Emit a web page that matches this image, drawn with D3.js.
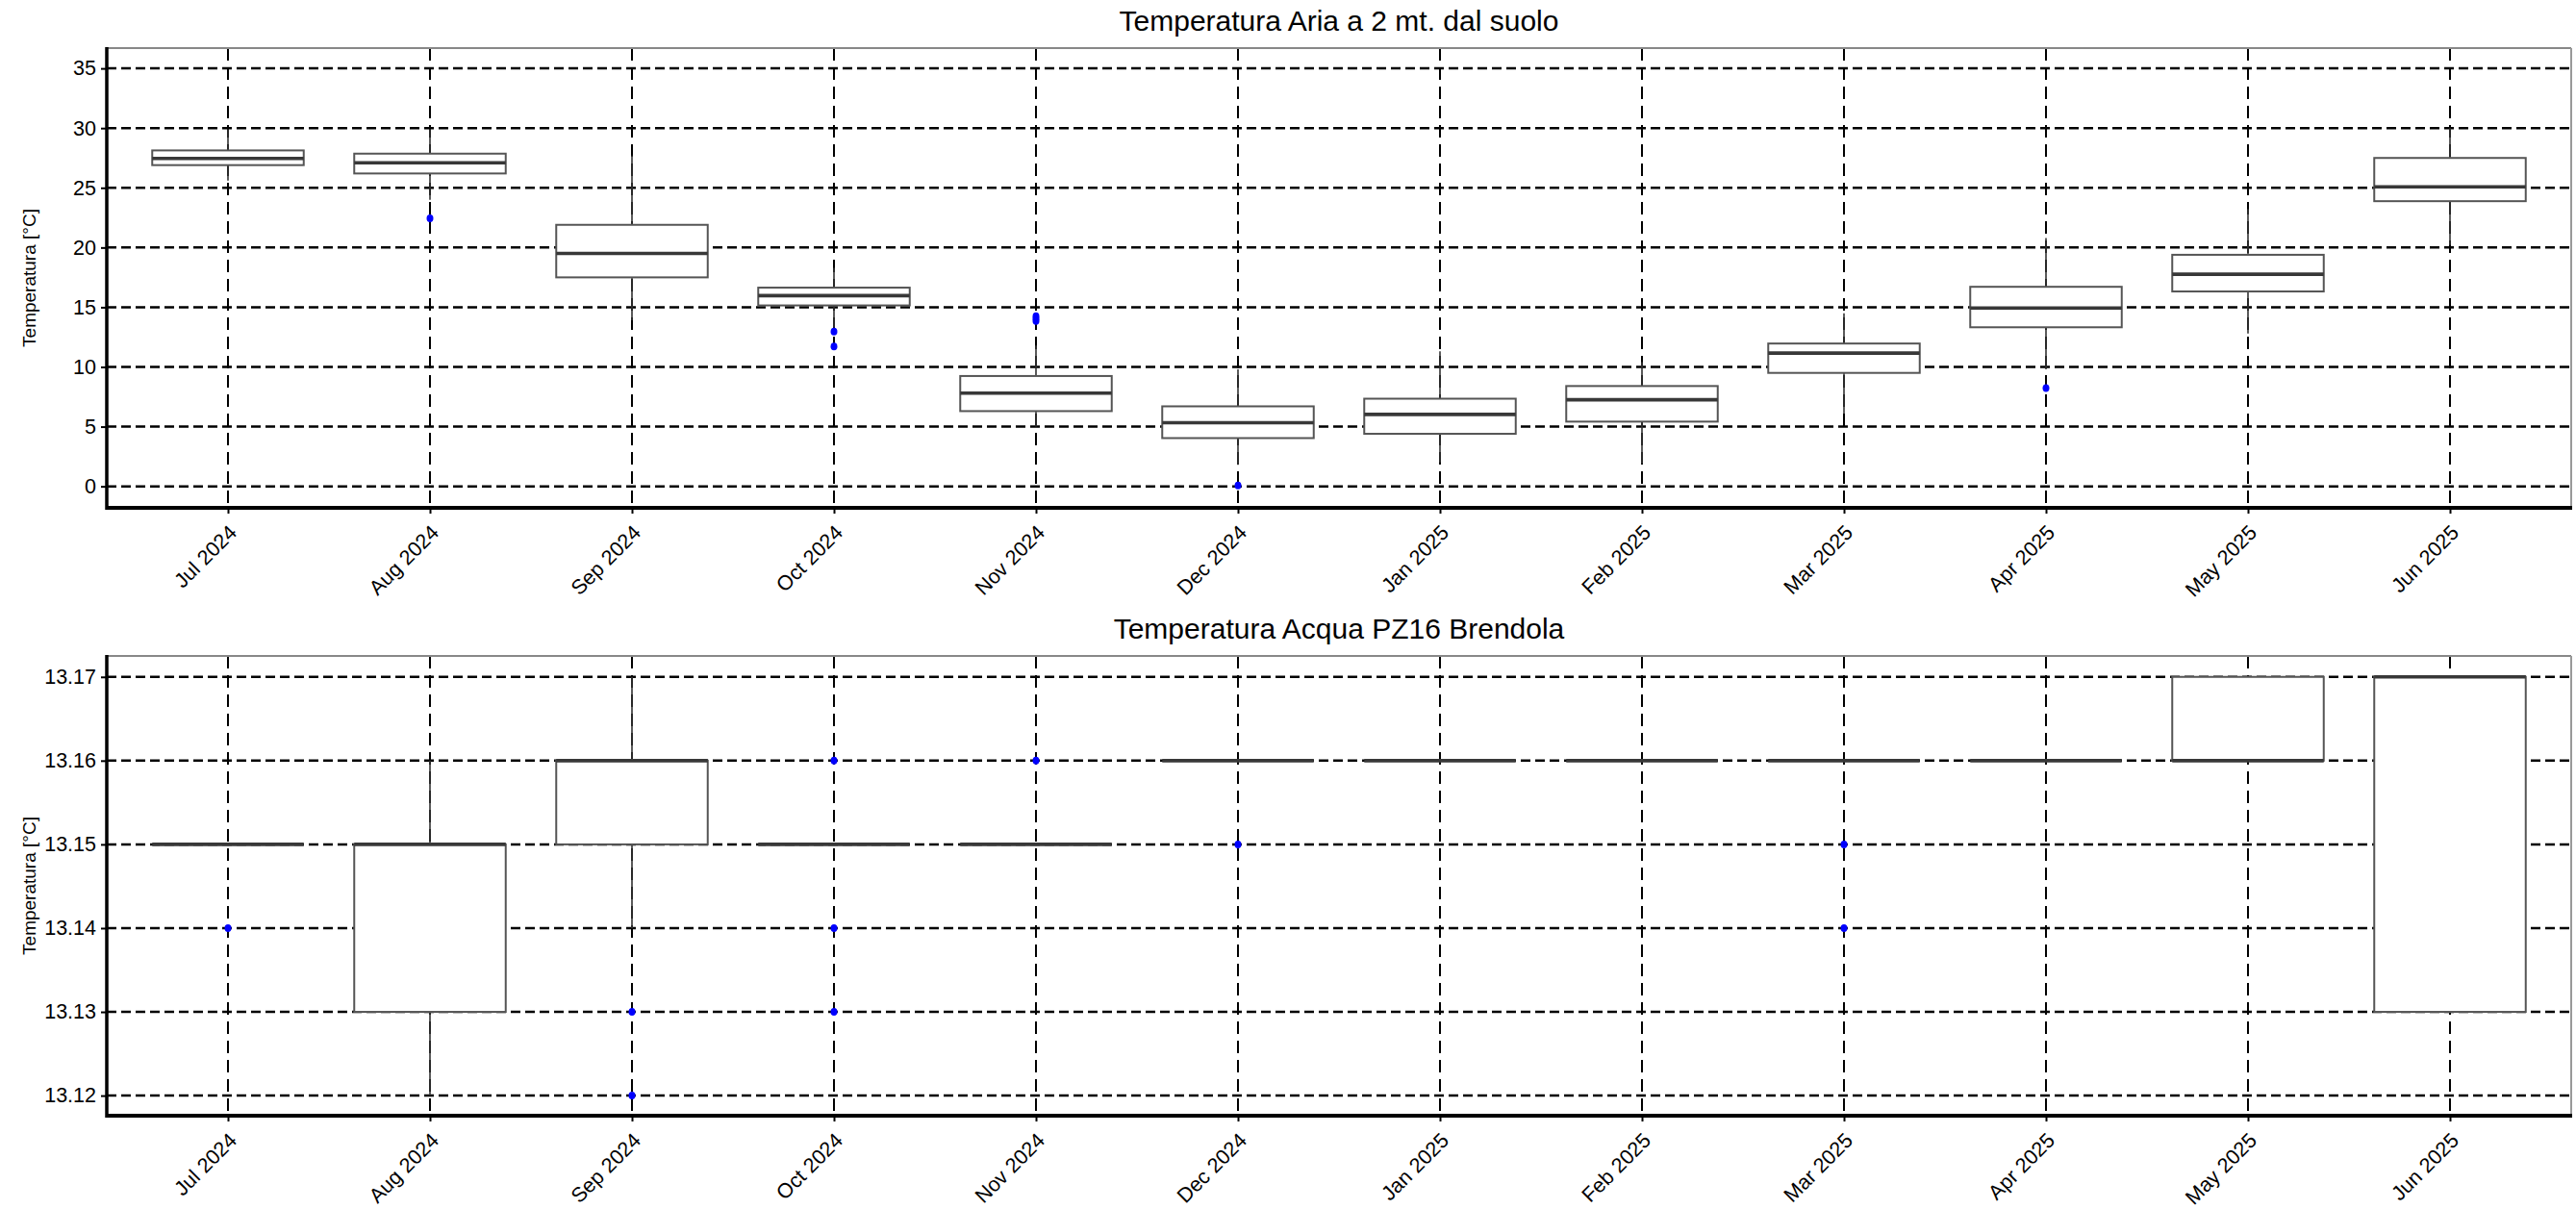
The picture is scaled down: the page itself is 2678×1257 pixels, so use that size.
<!DOCTYPE html>
<html>
<head>
<meta charset="utf-8">
<script src="https://cdn.jsdelivr.net/npm/d3@7"></script>
<style>
  html, body { margin: 0; padding: 0; background: #fff; }
  svg { display: block; }
  text { font-family: "Liberation Sans", Arial, sans-serif; fill: #000; }
</style>
</head>
<body>
<svg id="chart" width="2678" height="1257"></svg>
<script>
// ---------- DATA ----------
const months = ["Jul 2024", "Aug 2024", "Sep 2024", "Oct 2024", "Nov 2024", "Dec 2024",
                "Jan 2025", "Feb 2025", "Mar 2025", "Apr 2025", "May 2025", "Jun 2025"];

// Chart 1: Temperatura Aria a 2 mt. dal suolo
const airTitle = "Temperatura Aria a 2 mt. dal suolo";
const airTicks = [0, 5, 10, 15, 20, 25, 30, 35];
const airLow    = [25.6, 24.0, 13.9, 13.3, 5.0, 1.8, 2.0, 1.9, 6.1, 9.8, 12.8, 20.2];
const airQ1     = [26.9, 26.2, 17.5, 15.15, 6.3, 4.04, 4.4, 5.42, 9.5, 13.32, 16.32, 23.88];
const airMedian = [27.46, 27.1, 19.5, 15.97, 7.81, 5.33, 6.02, 7.25, 11.16, 14.93, 17.76, 25.08];
const airQ3     = [28.13, 27.86, 21.9, 16.64, 9.24, 6.7, 7.34, 8.4, 11.96, 16.71, 19.39, 27.5];
const airHigh   = [29.9, 29.9, 27.7, 18.3, 11.8, 9.8, 11.3, 10.4, 14.5, 20.8, 23.2, 30.0];
const airOut    = [[], [22.45], [], [12.95, 11.72], [14.25, 14.05, 13.85], [0.07], [], [], [], [8.23], [], []];

// Chart 2: Temperatura Acqua PZ16 Brendola
const waterTitle = "Temperatura Acqua PZ16 Brendola";
const waterTicks = [13.12, 13.13, 13.14, 13.15, 13.16, 13.17];
const waterLow    = [13.15, 13.12, 13.14, 13.15, 13.15, 13.16, 13.16, 13.16, 13.16, 13.16, 13.16, 13.13];
const waterQ1     = [13.15, 13.13, 13.15, 13.15, 13.15, 13.16, 13.16, 13.16, 13.16, 13.16, 13.16, 13.13];
const waterMedian = [13.15, 13.15, 13.16, 13.15, 13.15, 13.16, 13.16, 13.16, 13.16, 13.16, 13.16, 13.17];
const waterQ3     = [13.15, 13.15, 13.16, 13.15, 13.15, 13.16, 13.16, 13.16, 13.16, 13.16, 13.17, 13.17];
const waterHigh   = [13.15, 13.16, 13.17, 13.15, 13.15, 13.16, 13.16, 13.16, 13.16, 13.16, 13.17, 13.17];
const waterOut    = [[13.14], [], [13.13, 13.12], [13.16, 13.14, 13.13], [13.16], [13.15], [], [], [13.15, 13.14], [], [], []];

const yLabel = "Temperatura [°C]";

// ---------- DRAW ----------
const svg = d3.select("#chart");
svg.append("rect").attr("width", 2678).attr("height", 1257).attr("fill", "#fff");

function drawPanel(cfg) {
  const { top, bottom, left, right, yDomain, ticks, fmt, title,
          low, q1, med, q3, high, out } = cfg;
  const g = svg.append("g");
  const idx = months.map((m, i) => i + 1);
  const x = d3.scaleLinear().domain([0.4, 12.6]).range([left, right]);
  const y = d3.scaleLinear().domain(yDomain).range([bottom, top]);
  const boxW = x(1.375) - x(1);

  // horizontal grid
  g.append("g").selectAll("line").data(ticks).join("line")
    .attr("x1", left).attr("x2", right)
    .attr("y1", d => y(d)).attr("y2", d => y(d))
    .attr("stroke", "#000").attr("stroke-width", 2.5)
    .attr("stroke-dasharray", "10,5");
  // vertical grid
  g.append("g").selectAll("line").data(idx).join("line")
    .attr("x1", d => x(d)).attr("x2", d => x(d))
    .attr("y1", top).attr("y2", bottom)
    .attr("stroke", "#000").attr("stroke-width", 2)
    .attr("stroke-dasharray", "13,7");

  // whiskers
  const wg = g.append("g");
  idx.forEach((d, i) => {
    wg.append("line").attr("x1", x(d)).attr("x2", x(d))
      .attr("y1", y(q3[i])).attr("y2", y(high[i]))
      .attr("stroke", "#333").attr("stroke-width", 1.6);
    wg.append("line").attr("x1", x(d)).attr("x2", x(d))
      .attr("y1", y(q1[i])).attr("y2", y(low[i]))
      .attr("stroke", "#333").attr("stroke-width", 1.6);
  });

  // boxes
  g.append("g").selectAll("rect").data(idx).join("rect")
    .attr("x", d => x(d) - boxW)
    .attr("width", boxW * 2)
    .attr("y", (d, i) => y(q3[i]))
    .attr("height", (d, i) => Math.max(0, y(q1[i]) - y(q3[i])))
    .attr("fill", "#fff").attr("stroke", "#555").attr("stroke-width", 2);

  // medians
  g.append("g").selectAll("line").data(idx).join("line")
    .attr("x1", d => x(d) - boxW).attr("x2", d => x(d) + boxW)
    .attr("y1", (d, i) => y(med[i])).attr("y2", (d, i) => y(med[i]))
    .attr("stroke", "#383838").attr("stroke-width", 3.6);

  // outliers
  const og = g.append("g");
  idx.forEach((d, i) => {
    out[i].forEach(v => {
      og.append("ellipse").attr("cx", x(d)).attr("cy", y(v))
        .attr("rx", 3.5).attr("ry", 4).attr("fill", "#0000ff");
    });
  });

  // frame: top & right thin gray
  g.append("line").attr("x1", left).attr("x2", right).attr("y1", top).attr("y2", top)
    .attr("stroke", "#888").attr("stroke-width", 2);
  g.append("line").attr("x1", right).attr("x2", right).attr("y1", top).attr("y2", bottom)
    .attr("stroke", "#999").attr("stroke-width", 2);

  // y axis
  const ya = d3.axisLeft(y).tickValues(ticks).tickSize(6).tickPadding(5).tickFormat(fmt);
  const yg = g.append("g").attr("transform", `translate(${left},0)`).call(ya);
  yg.select(".domain").remove();
  yg.selectAll(".tick line").attr("stroke", "#000").attr("stroke-width", 2);
  yg.selectAll(".tick text").attr("font-size", 21.5)
    .attr("font-family", "'Liberation Sans', Arial, sans-serif").attr("fill", "#000");

  // x axis
  const xa = d3.axisBottom(x).tickValues(idx).tickSize(6).tickFormat(d => months[d - 1]);
  const xg = g.append("g").attr("transform", `translate(0,${bottom})`).call(xa);
  xg.select(".domain").remove();
  xg.selectAll(".tick line").attr("stroke", "#000").attr("stroke-width", 2);
  xg.selectAll(".tick text").attr("font-size", 21.5)
    .attr("font-family", "'Liberation Sans', Arial, sans-serif").attr("fill", "#000")
    .attr("text-anchor", "end")
    .attr("dy", null).attr("y", null)
    .attr("transform", "translate(10,27) rotate(-45)");

  // thick left and bottom axis lines
  g.append("line").attr("x1", left).attr("x2", left).attr("y1", top - 1).attr("y2", bottom + 2)
    .attr("stroke", "#000").attr("stroke-width", 3.5);
  g.append("line").attr("x1", left).attr("x2", right + 1).attr("y1", bottom).attr("y2", bottom)
    .attr("stroke", "#000").attr("stroke-width", 4);

  // title
  g.append("text").attr("x", (left + right) / 2).attr("y", top - 18)
    .attr("text-anchor", "middle").attr("font-size", 30).text(title);

  // y label
  g.append("text")
    .attr("transform", `translate(37,${(top + bottom) / 2}) rotate(-90)`)
    .attr("text-anchor", "middle").attr("font-size", 19).text(yLabel);
}

drawPanel({
  top: 50, bottom: 528, left: 111, right: 2673,
  yDomain: [-1.8, 36.7], ticks: airTicks, fmt: d3.format("d"), title: airTitle,
  low: airLow, q1: airQ1, med: airMedian, q3: airQ3, high: airHigh, out: airOut
});

drawPanel({
  top: 682, bottom: 1160, left: 111, right: 2673,
  yDomain: [13.1176, 13.1725], ticks: waterTicks, fmt: d3.format(".2f"), title: waterTitle,
  low: waterLow, q1: waterQ1, med: waterMedian, q3: waterQ3, high: waterHigh, out: waterOut
});
</script>
</body>
</html>
